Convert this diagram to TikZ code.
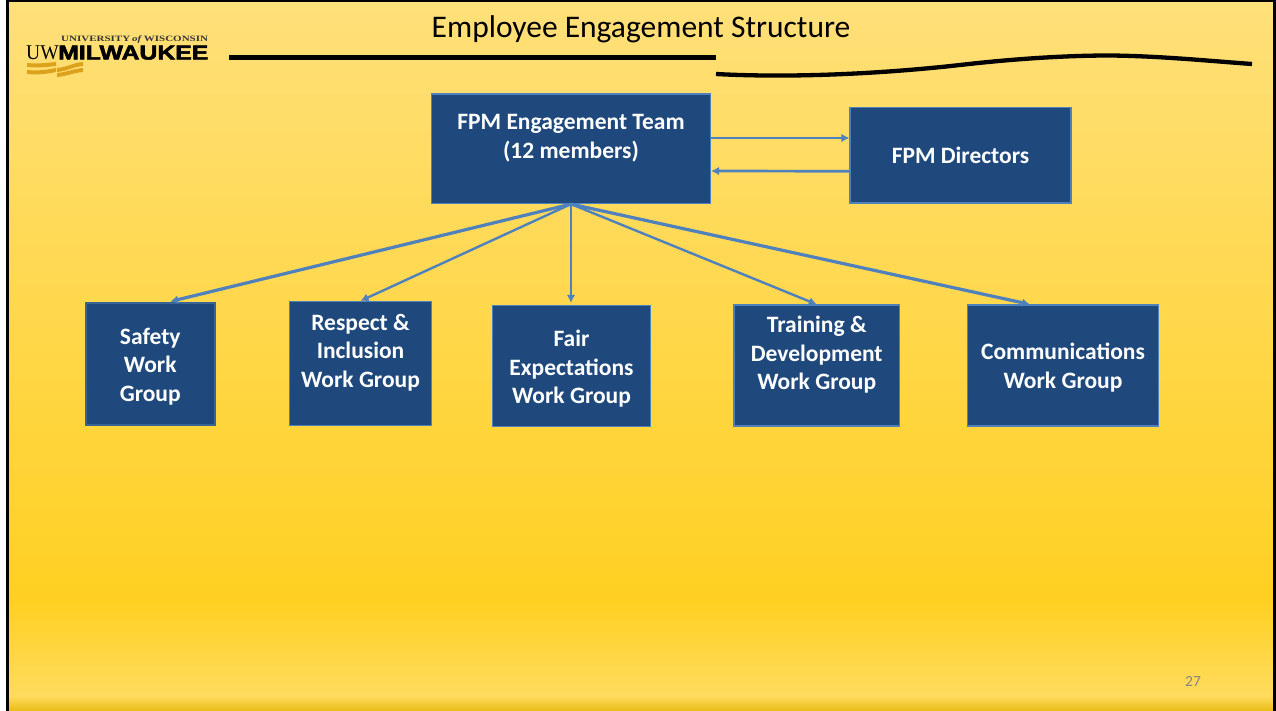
\documentclass[tikz,border=0pt]{standalone}
\usepackage{fontspec}
\setmainfont{Carlito}
\newfontfamily\logoserif{Liberation Serif}
\newfontfamily\logoheavy[FakeBold=2.5]{Liberation Sans}
\usetikzlibrary{arrows.meta,calc}
\definecolor{boxfill}{HTML}{1F497D}
\definecolor{boxline}{HTML}{4F81BD}
\definecolor{boxdark}{HTML}{3A6496}
\definecolor{bgtop}{HTML}{FFE07A}
\definecolor{bgmid}{HTML}{FFD022}
\definecolor{bglow}{HTML}{FFDB5E}
\definecolor{bgdark}{HTML}{E9BC14}
\definecolor{logogold}{HTML}{DDA21C}
\definecolor{pagegrey}{HTML}{858585}
\newcommand\topstrut[1]{\rule{0pt}{#1pt}}
\tikzset{
  workbox/.style={draw=boxline,line width=1.2pt,fill=boxfill,text=white,font=\fontsize{23.5}{28.5}\selectfont\bfseries,align=center,inner sep=0pt},
  link/.style={draw=boxline,line width=2.4pt,-{Latex[length=8pt,width=8.5pt]}},
  thicklink/.style={link,line width=3.2pt},
  flatlink/.style={link,line width=2.7pt},
  rule/.style={line width=5pt,black}
}
\begin{document}
\begin{tikzpicture}[x=1pt,y=-1pt]
\useasboundingbox (0,0) rectangle (1276,711);
\fill[white] (0,0) rectangle (1276,711);
\fill[top color=bgtop,bottom color=bgmid] (6,0) rectangle (1276,600);
\fill[top color=bgmid,bottom color=bglow] (6,600) rectangle (1276,696);
\fill[top color=bglow,bottom color=bgdark] (6,696) rectangle (1276,711);
\fill[black] (6,0) rectangle (9,711);
\fill[black] (6,0) rectangle (1276,2.5);
\fill[black] (1273,0) rectangle (1276,711);
% title
\node[font=\fontsize{31.5}{36}\selectfont,text=black] (title) at (641,29) {Employee Engagement Structure};
\coordinate (r1) at (229,57.5);
\coordinate (r2) at (716,57.5);
\draw[rule] (r1) -- (r2);
\coordinate (w1) at (716,74);
\coordinate (w2) at (1252,64);
\draw[line width=4.3pt] (w1) .. controls (790,78) and (880,74) .. (960,65) .. controls (1030,57) and (1080,55.5) .. (1110,55.5) .. controls (1160,56) and (1210,61) .. (w2);
% logo
\node[anchor=base west,inner sep=0pt,font=\logoserif\bfseries\fontsize{8.2}{9}\selectfont,text=black!80] (logotop) at (61,41.5) {\scalebox{1.34}[1]{UNIVERSITY\,\textit{of}\,WISCONSIN}};
\node[anchor=base west,inner sep=0pt,font=\logoserif\fontsize{21}{21}\selectfont,text=black] (logouw) at (26,60) {\scalebox{.93}[1]{UW}};
\node[anchor=base west,inner sep=0pt,font=\logoheavy\bfseries\fontsize{20}{20}\selectfont,text=black] (logomil) at (58,59.5) {\scalebox{1.24}[1]{MILWAUKEE}};
\fill[logogold] (27,63) .. controls (38,64) and (46,63) .. (56,62) -- (56,66) .. controls (46,67) and (38,68) .. (27,67) -- cycle;
\fill[logogold] (27,70) .. controls (38,71) and (46,70) .. (56,68) -- (56,72) .. controls (46,74) and (38,75) .. (27,74) -- cycle;
\fill[logogold] (57,68) .. controls (68,67) and (72,63) .. (83,62) -- (83,66) .. controls (72,67) and (68,71) .. (57,72) -- cycle;
\fill[logogold] (57,73) .. controls (68,72) and (72,69) .. (83,68) -- (83,72) .. controls (72,73) and (68,76) .. (57,77) -- cycle;
% boxes
\node[workbox,minimum width=279pt,minimum height=109.5pt] (team) at (571,148.75) {\topstrut{19}FPM Engagement Team\\(12 members)\\\mbox{}};
\node[workbox,minimum width=221pt,minimum height=95.5pt] (directors) at (960.5,155.25) {\topstrut{17}FPM Directors};
\node[workbox,draw=boxdark,line width=2pt,minimum width=129.5pt,minimum height=122pt] (safety) at (150.25,363.5) {\topstrut{22}Safety\\Work\\Group};
\node[workbox,minimum width=142pt,minimum height=124pt] (respect) at (360.5,363.5) {\topstrut{18.5}Respect \&\\Inclusion\\Work Group\\\mbox{}};
\node[workbox,minimum width=158pt,minimum height=121pt] (fair) at (571.5,366) {\topstrut{22}Fair\\Expectations\\Work Group};
\node[workbox,minimum width=165.5pt,minimum height=121pt] (training) at (816.75,365.5) {\topstrut{20}Training \&\\Development\\Work Group\\\mbox{}};
\node[workbox,minimum width=191pt,minimum height=121pt] (comms) at (1063,365.5) {\topstrut{21}Communications\\Work Group};
% connectors
\draw[flatlink] ([yshift=10.75pt]team.east) -- ([yshift=17.25pt]directors.west);
\draw[flatlink] ([yshift=-16pt]directors.west) -- ([yshift=-22.25pt]team.east);
\draw[thicklink] (team.south) -- ([xshift=20pt]safety.north);
\draw[link] (team.south) -- (respect.north);
\draw[link] (team.south) -- ([yshift=2pt,xshift=-.5pt]fair.north);
\draw[link] (team.south) -- (training.north);
\draw[thicklink] (team.south) -- ([xshift=-33pt]comms.north);
% page number
\node[font=\fontsize{15.5}{17}\selectfont,text=pagegrey] (pagenum) at (1193,681) {27};
\end{tikzpicture}
\end{document}
